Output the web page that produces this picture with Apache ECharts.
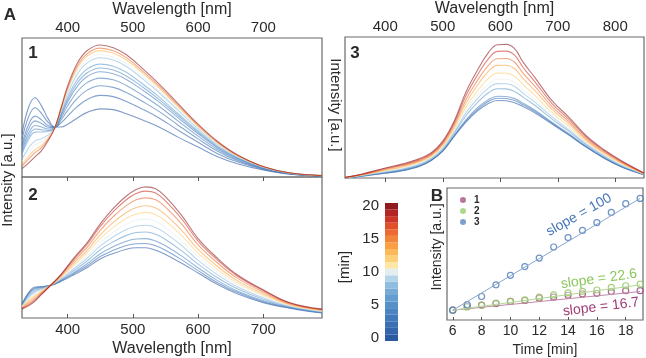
<!DOCTYPE html>
<html>
<head>
<meta charset="utf-8">
<script src="https://cdn.jsdelivr.net/npm/echarts/dist/echarts.min.js"></script>
<style>
html, body { margin: 0; padding: 0; background: #fff; }
#main { width: 646px; height: 358px; }
</style>
</head>
<body>
<div id="main"></div>
<script>
// colour of a spectrum by time [min], 0..20
var cmap = ['#2b5aa3', '#3364ac', '#3a6fb4', '#4279bb', '#4b84c1', '#5690c8', '#649dcf',
  '#77abd6', '#8fbde0', '#b4d4ea', '#e4eef0', '#fde7a8', '#fdd17a', '#fbb957', '#f8a043',
  '#f3853a', '#ec6a31', '#e0502b', '#cc3628', '#b32425', '#8f1a20'];
var barTimes = ['0','1','2','3','4','5','6','7','8','9','10','11','12','13','14','15','16','17','18','19','20'];

// panel 1
var wl1 = [330, 340, 350, 360, 370, 380, 390, 400, 415, 430, 450, 470, 490, 515, 540, 570, 600, 630, 660, 700, 740, 790];
var times1 = [0, 1, 2, 3, 4, 5, 6, 8, 10, 13, 16, 20];
var spec1 = [
  [31, 50, 57, 51, 42, 36, 36, 38, 42.5, 46.5, 49, 48.5, 45.5, 41, 36, 28.5, 21.5, 14.5, 9.5, 5, 2, 0.7],
  [26.8, 43.2, 49.8, 45.6, 39.3, 35.8, 38.9, 43.8, 50.8, 55.8, 58.7, 57.8, 54.4, 48.8, 42.5, 33.5, 25, 16.8, 10.9, 5.5, 2.2, 0.8],
  [23.3, 37.6, 43.8, 41.1, 37, 35.7, 41, 47.9, 56.7, 62.5, 65.6, 64.5, 60.8, 54.3, 47.2, 37.1, 27.4, 18.5, 11.8, 5.9, 2.4, 0.8],
  [21.3, 34.4, 40.4, 38.5, 35.8, 35.6, 42.7, 51.2, 61.5, 67.9, 71.1, 69.9, 65.9, 58.8, 50.9, 40, 29.4, 19.8, 12.6, 6.2, 2.5, 0.8],
  [19.3, 31.2, 37, 36, 34.5, 35.5, 44.1, 54, 65.4, 72.3, 75.7, 74.3, 70.2, 62.5, 54, 42.4, 31.1, 20.9, 13.3, 6.5, 2.6, 0.9],
  [17.8, 28.8, 34.5, 34, 33.5, 35.4, 45, 55.6, 67.8, 75, 78.4, 77, 72.7, 64.7, 55.8, 43.9, 32.1, 21.5, 13.7, 6.6, 2.6, 0.9],
  [16.5, 26.8, 32.3, 32.4, 32.7, 35.4, 45.8, 57.3, 70.2, 77.7, 81.2, 79.7, 75.3, 66.9, 57.7, 45.3, 33.1, 22.2, 14.1, 6.8, 2.7, 0.9],
  [12.8, 20.8, 26, 27.6, 30.3, 35.2, 47.2, 60, 74.1, 82.1, 85.8, 84.1, 79.5, 70.6, 60.8, 47.7, 34.7, 23.3, 14.7, 7, 2.8, 0.9],
  [11, 18, 23, 25.4, 29.2, 35.2, 47.9, 61.4, 76.1, 84.3, 88.1, 86.3, 81.6, 72.5, 62.4, 48.9, 35.5, 23.9, 15, 7.1, 2.9, 1],
  [9, 14.8, 19.6, 22.8, 27.9, 35.1, 48.7, 63, 78.4, 87, 90.9, 89, 84.2, 74.7, 64.2, 50.3, 36.5, 24.5, 15.4, 7.3, 2.9, 1],
  [7.8, 12.8, 17.5, 21.2, 27.1, 35, 49.3, 64.1, 80, 88.8, 92.7, 90.8, 85.9, 76.2, 65.5, 51.3, 37.2, 25, 15.7, 7.4, 3, 1],
  [6, 10, 14.5, 19, 26, 35, 50, 65.5, 82, 91, 95, 93, 88, 78, 67, 52.5, 38, 25.5, 16, 7.5, 3, 1]
];

// panel 2
var wl2 = [330, 340, 350, 360, 375, 390, 410, 430, 450, 470, 490, 505, 520, 535, 550, 575, 600, 630, 660, 700, 740, 790];
var times2 = [0, 2, 4, 6, 8, 10, 12, 14, 16, 18, 20];
var spec2 = [
  [9.8, 18, 22, 22.3, 23.3, 26, 30.7, 35.8, 41.9, 45.8, 48.8, 49.8, 49.8, 48.1, 45.1, 38.8, 31.9, 23.7, 17.2, 10.9, 7, 3.5],
  [9.6, 17.3, 21.3, 21.9, 23.3, 26.4, 31.6, 37, 43.6, 48, 51.4, 52.7, 52.8, 51.2, 48, 41.2, 33.6, 25, 18.2, 11.5, 7.3, 3.7],
  [9.3, 16.6, 20.5, 21.5, 23.4, 26.8, 32.5, 38.5, 45.6, 50.6, 54.5, 56, 56.3, 54.6, 51.2, 43.9, 35.6, 26.5, 19.2, 12.3, 7.6, 3.9],
  [8.9, 15.6, 19.4, 20.8, 23.4, 27.3, 33.9, 40.4, 48.4, 54.1, 58.6, 60.6, 61, 59.4, 55.7, 47.6, 38.2, 28.5, 20.7, 13.3, 8, 4.2],
  [8.5, 14.5, 18.3, 20.2, 23.5, 27.9, 35.2, 42.4, 51.1, 57.6, 62.8, 65.1, 65.8, 64.2, 60.2, 51.3, 40.9, 30.6, 22.2, 14.3, 8.5, 4.5],
  [8.2, 13.6, 17.3, 19.7, 23.5, 28.4, 36.4, 44.1, 53.6, 60.8, 66.5, 69.3, 70.1, 68.6, 64.3, 54.7, 43.4, 32.4, 23.6, 15.2, 8.9, 4.8],
  [7.8, 12.6, 16.2, 19.1, 23.5, 28.9, 37.7, 46.1, 56.3, 64.3, 70.7, 73.8, 74.9, 73.3, 68.8, 58.4, 46, 34.5, 25, 16.2, 9.3, 5.1],
  [7.4, 11.5, 15.1, 18.4, 23.6, 29.5, 39.1, 48, 59, 67.8, 74.8, 78.4, 79.6, 78.1, 73.3, 62.1, 48.7, 36.5, 26.5, 17.2, 9.8, 5.4],
  [6.9, 10.3, 13.8, 17.7, 23.6, 30.1, 40.6, 50.3, 62.2, 72, 79.7, 83.8, 85.2, 83.8, 78.6, 66.5, 51.9, 39, 28.3, 18.4, 10.3, 5.8],
  [6.5, 9.3, 12.7, 17.1, 23.7, 30.7, 42, 52.3, 65, 75.5, 83.9, 88.3, 90, 88.6, 83.1, 70.2, 54.6, 41, 29.8, 19.4, 10.7, 6.1],
  [6.3, 8.6, 12, 16.7, 23.7, 31, 42.8, 53.5, 66.7, 77.7, 86.5, 91.2, 93, 91.6, 86, 72.6, 56.3, 42.3, 30.7, 20, 11, 6.3]
];

// panel 3
var wl3 = [330, 360, 400, 430, 460, 480, 500, 520, 540, 560, 580, 595, 610, 625, 640, 660, 690, 720, 750, 780, 810, 850];
var times3 = [0, 2, 4, 6, 8, 10, 12, 14, 16, 18, 20];
var spec3 = [
  [0, 1.4, 3.4, 5.2, 8.4, 12.4, 19, 29.5, 39.5, 47.5, 53, 55, 54.8, 53.4, 50.6, 46.3, 38.3, 30.2, 21.7, 14.2, 8, 2.3],
  [0, 1.5, 3.6, 5.4, 8.6, 12.6, 19.3, 29.9, 40.4, 48.7, 54.5, 56.6, 56.4, 54.9, 51.9, 47.3, 39, 30.7, 22, 14.4, 8.2, 2.4],
  [0, 1.5, 3.7, 5.6, 8.8, 12.8, 19.5, 30.3, 41.1, 49.7, 55.7, 58, 57.8, 56.3, 53, 48.2, 39.5, 31.2, 22.3, 14.7, 8.3, 2.4],
  [0.1, 1.7, 4.2, 6.2, 9.5, 13.6, 20.5, 31.8, 44, 53.5, 60.6, 63.3, 63.2, 61.4, 57.2, 51.6, 41.8, 32.9, 23.4, 15.5, 8.9, 2.6],
  [0.2, 1.9, 4.5, 6.6, 10, 14.1, 21.2, 32.8, 45.9, 56.1, 63.9, 66.9, 66.8, 64.9, 60, 53.8, 43.3, 34, 24.1, 16, 9.3, 2.7],
  [0.2, 2, 4.8, 7, 10.5, 14.5, 21.7, 33.7, 47.6, 58.4, 66.8, 70, 70, 68, 62.5, 55.8, 44.6, 35, 24.8, 16.5, 9.7, 2.8],
  [0.2, 2.1, 5.2, 7.6, 11.1, 15.1, 22.5, 34.9, 49.9, 61.6, 70.8, 74.4, 74.4, 72.2, 66, 58.6, 46.4, 36.4, 25.7, 17.1, 10.2, 2.9],
  [0.3, 2.4, 5.7, 8.2, 11.8, 15.9, 23.5, 36.4, 52.9, 65.6, 75.9, 79.9, 80, 77.5, 70.4, 62.1, 48.7, 38.2, 26.8, 18, 10.8, 3.1],
  [0.4, 2.5, 6.2, 8.8, 12.5, 16.5, 24.4, 37.8, 55.4, 69, 80.2, 84.6, 84.8, 82.1, 74.2, 65.1, 50.7, 39.7, 27.8, 18.7, 11.3, 3.3],
  [0.4, 2.7, 6.7, 9.4, 13.2, 17.2, 25.3, 39.2, 58.2, 72.8, 84.9, 89.8, 90, 87.1, 78.2, 68.4, 52.8, 41.4, 28.8, 19.5, 11.9, 3.4],
  [0.5, 2.9, 7.1, 10, 13.8, 17.9, 26.2, 40.5, 60.7, 76.2, 89.3, 94.5, 94.8, 91.7, 82, 71.4, 54.8, 42.9, 29.8, 20.2, 12.4, 3.6]
];

// panel B
var timeB = [6, 7, 8, 9, 10, 11, 12, 13, 14, 15, 16, 17, 18, 19];
var intB1 = [114, 159, 174, 190, 216, 227, 254, 265, 288, 303, 311, 330, 341, 341];
var intB2 = [114, 152, 171, 197, 216, 235, 265, 292, 315, 334, 349, 379, 398, 417];
var intB3 = [114, 178, 273, 409, 519, 621, 720, 849, 959, 1042, 1133, 1251, 1353, 1414];
var fitT = [6, 19];
var fitB1 = [114, 331];
var fitB2 = [114, 408];
var fitB3 = [114, 1414];
var namesB = ['1', '2', '3'];
var slopesB = ['16.7', '22.6', '100'];

var FONT = "'Liberation Sans', Arial, sans-serif";
var TXT = '#2a2a2a';
var FRAME = '#6a6a6a';
var colB = ['#9e3c73', '#8cc65e', '#4677b8'];
var fitCol = ['#c08aa8', '#b3d897', '#8aa6cc'];

var chart = echarts.init(document.getElementById('main'), null, { renderer: 'canvas' });

function specSeries(wl, times, rows, axis) {
  return rows.map(function (row, i) {
    return {
      type: 'line',
      xAxisIndex: axis, yAxisIndex: axis,
      showSymbol: false, symbol: 'none', smooth: 0.4,
      silent: true, animation: false,
      lineStyle: { width: 1.1, color: cmap[times[i]], opacity: 0.6 },
      data: wl.map(function (w, j) { return [w, row[j]]; })
    };
  });
}

function wlAxis(grid, min, max, pos) {
  return {
    gridIndex: grid, type: 'value', min: min, max: max, splitNumber: 5, position: pos,
    name: 'Wavelength [nm]', nameLocation: 'middle',
    nameGap: pos === 'top' ? 20 : 23,
    nameTextStyle: { fontFamily: FONT, fontSize: 16, color: TXT },
    axisLine: { show: false },
    axisTick: { inside: true, length: 4, lineStyle: { color: '#555' } },
    axisLabel: { showMinLabel: false, showMaxLabel: false,
      margin: pos === 'top' ? 3 : 4, fontFamily: FONT, fontSize: 15, color: TXT },
    splitLine: { show: false }
  };
}

function hiddenY(grid, min, max) {
  return { gridIndex: grid, type: 'value', min: min, max: max,
    axisLine: { show: false }, axisTick: { show: false }, axisLabel: { show: false }, splitLine: { show: false } };
}

var series = []
  .concat(specSeries(wl1, times1, spec1, 0))
  .concat(specSeries(wl2, times2, spec2, 1))
  .concat(specSeries(wl3, times3, spec3, 2));

// colour bar
series.push({
  type: 'bar', xAxisIndex: 3, yAxisIndex: 3, barCategoryGap: '0%', silent: true, animation: false,
  data: barTimes.map(function (t, i) { return { value: 1, itemStyle: { color: cmap[i] } }; })
});

// panel B fits and points
var fits = [fitB1, fitB2, fitB3];
var pts = [intB1, intB2, intB3];
fits.forEach(function (f, k) {
  series.push({
    type: 'line', xAxisIndex: 4, yAxisIndex: 4, symbol: 'none', silent: true, animation: false,
    lineStyle: { width: 1, color: fitCol[k] },
    data: fitT.map(function (t, j) { return [t, f[j]]; })
  });
});
pts.forEach(function (p, k) {
  series.push({
    name: namesB[k], type: 'scatter', xAxisIndex: 4, yAxisIndex: 4, animation: false,
    symbol: 'circle', symbolSize: 6,
    itemStyle: { color: 'rgba(255,255,255,0.5)', borderColor: colB[k], borderWidth: 1.2 },
    data: timeB.map(function (t, j) { return [t, p[j]]; })
  });
});

function label(text, x, y, size, bold, rot, color) {
  return { type: 'text', x: x, y: y, rotation: rot || 0, silent: true,
    style: { text: text, fill: color || TXT, font: (bold ? 'bold ' : '') + size + 'px ' + FONT,
      align: 'center', verticalAlign: 'middle' } };
}

var deg = Math.PI / 180;

chart.setOption({
  backgroundColor: '#fff',
  animation: false,
  grid: [
    { left: 22, top: 38, width: 300, height: 139, show: true, borderColor: FRAME, borderWidth: 1.2 },
    { left: 22, top: 177, width: 300, height: 144, show: true, borderColor: FRAME, borderWidth: 1.2 },
    { left: 345, top: 37, width: 299, height: 141, show: true, borderColor: FRAME, borderWidth: 1.2 },
    { left: 385, top: 203, width: 13, height: 138, show: false },
    { left: 447, top: 188, width: 196, height: 135, show: true, borderColor: FRAME, borderWidth: 1.2 }
  ],
  xAxis: [
    wlAxis(0, 330, 790, 'top'),
    wlAxis(1, 330, 790, 'bottom'),
    wlAxis(2, 330, 850, 'top'),
    { gridIndex: 3, type: 'value', min: 0, max: 1, show: false },
    { gridIndex: 4, type: 'value', min: 5.6, max: 19.2, splitNumber: 7,
      name: 'Time [min]', nameLocation: 'middle', nameGap: 23,
      nameTextStyle: { fontFamily: FONT, fontSize: 14, color: TXT },
      axisLine: { show: false },
      axisTick: { inside: true, length: 3, lineStyle: { color: '#555' } },
      axisLabel: { showMinLabel: false, showMaxLabel: false, margin: 4, fontFamily: FONT, fontSize: 14, color: TXT },
      splitLine: { show: false } }
  ],
  yAxis: [
    hiddenY(0, 0, 100),
    hiddenY(1, 0, 100),
    hiddenY(2, 0, 100),
    { gridIndex: 3, type: 'category', data: barTimes,
      axisLine: { show: false },
      axisTick: { alignWithLabel: true, length: 3, interval: function (i) { return i % 5 === 0; }, lineStyle: { color: '#555' } },
      axisLabel: { interval: function (i) { return i % 5 === 0; }, margin: 6, fontFamily: FONT, fontSize: 15, color: TXT } },
    hiddenY(4, 0, 1535)
  ],
  legend: {
    orient: 'vertical', left: 455, top: 190, itemGap: 1, itemWidth: 6, itemHeight: 6,
    icon: 'circle', selectedMode: false,
    textStyle: { fontFamily: FONT, fontSize: 10, fontWeight: 'bold', color: TXT, padding: [0, 0, 0, 3] },
    data: namesB.map(function (n, k) { return { name: n, itemStyle: { color: colB[k], borderWidth: 0, opacity: 0.7 } }; })
  },
  graphic: [
    label('A', 10, 15, 17, true),
    label('1', 33, 53, 17, true),
    label('2', 33, 195, 17, true),
    label('3', 355, 53, 17, true),
    label('B', 437, 196, 17, true),
    label('Intensity [a.u.]', 8, 180, 15, false, 90 * deg),
    label('Intensity [a.u.]', 335, 105, 15, false, -90 * deg),
    label('[min]', 345, 267, 15, false, 90 * deg),
    label('Intensity [a.u.]', 437, 247, 14, false, 90 * deg),
    label('slope = ' + slopesB[2], 579, 215, 14, false, 29.5 * deg, colB[2]),
    label('slope = ' + slopesB[1], 599, 279, 14, false, 8 * deg, colB[1]),
    label('slope = ' + slopesB[0], 601, 307, 14, false, 7 * deg, colB[0])
  ],
  series: series
});
</script>
</body>
</html>
